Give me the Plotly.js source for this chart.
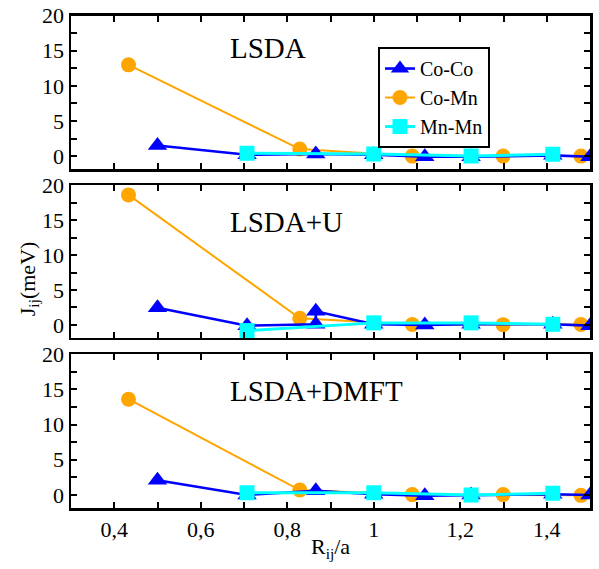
<!DOCTYPE html>
<html>
<head>
<meta charset="utf-8">
<script src="https://cdn.plot.ly/plotly-3.0.1.min.js"></script>
<style>
html,body{margin:0;padding:0;background:#fff;}
#chart{width:599px;height:569px;}
#chart svg text{font-family:"Liberation Serif","DejaVu Serif",serif !important;}
</style>
</head>
<body>
<div id="chart"></div>
<script>
// ---- data ----
const seriesNames = ["Co-Co", "Co-Mn", "Mn-Mn"];
const panelLabels = ["LSDA", "LSDA+U", "LSDA+DMFT"];

const xCoCo = [0.5, 0.707, 0.866, 1.0, 1.118, 1.225, 1.414, 1.5];
const xCoCoU = [0.5, 0.707, 0.866, 0.866, 1.0, 1.118, 1.225, 1.414, 1.5];
const xCoMn = [0.433, 0.829, 1.089, 1.299, 1.479];
const xMnMn = [0.707, 1.0, 1.225, 1.414];

// LSDA
const lsdaCoCo = [1.5, 0.2, 0.3, 0.2, -0.1, -0.1, 0.1, -0.1];
const lsdaCoMn = [13.0, 1.0, 0.0, 0.0, 0.0];
const lsdaMnMn = [0.4, 0.3, 0.0, 0.25];
// LSDA+U
const uCoCo = [2.45, -0.1, 0.1, 1.95, 0.1, 0.0, 0.1, 0.1, -0.1];
const uCoMn = [18.6, 0.95, 0.07, 0.05, 0.07];
const uMnMn = [-0.8, 0.3, 0.3, 0.1];
// LSDA+DMFT
const dmftCoCo = [2.1, 0.0, 0.6, 0.1, -0.1, 0.0, 0.1, 0.0];
const dmftCoMn = [13.6, 0.7, 0.05, 0.05, -0.05];
const dmftMnMn = [0.3, 0.3, 0.0, 0.25];

const xTickVals = [0.4, 0.5, 0.6, 0.7, 0.8, 0.9, 1.0, 1.1, 1.2, 1.3, 1.4];
const xTickText = ["0,4", " ", "0,6", " ", "0,8", " ", "1", " ", "1,2", " ", "1,4"];
const yTickVals = [0, 2.5, 5, 7.5, 10, 12.5, 15, 17.5, 20];
const yTickText = ["0", " ", "5", " ", "10", " ", "15", " ", "20"];

// ---- styling ----
const FONT = "Liberation Serif";
const styles = {
  "Co-Co": {color: "#0000FF", symbol: "triangle-up", size: 17, width: 2.6, rank: 1},
  "Co-Mn": {color: "#FFA500", symbol: "circle", size: 15, width: 2, rank: 2},
  "Mn-Mn": {color: "#00FFFF", symbol: "square", size: 15, width: 3, rank: 3}
};

function tr(name, x, y, ax, show) {
  const s = styles[name];
  return {
    type: "scatter", mode: "lines+markers", name: name, x: x, y: y,
    xaxis: ax[0], yaxis: ax[1], showlegend: show, legendrank: s.rank,
    line: {color: s.color, width: s.width},
    marker: {color: s.color, symbol: s.symbol, size: s.size, line: {width: 0}}
  };
}

// top panel on x3/y3, middle on x2/y2, bottom on x/y
const panels = [
  {ax: ["x3", "y3"], co: lsdaCoCo, cox: xCoCo, cm: lsdaCoMn, mm: lsdaMnMn, show: true},
  {ax: ["x2", "y2"], co: uCoCo, cox: xCoCoU, cm: uCoMn, mm: uMnMn, show: false},
  {ax: ["x", "y"], co: dmftCoCo, cox: xCoCo, cm: dmftCoMn, mm: dmftMnMn, show: false}
];

const traces = [];
panels.forEach(p => {
  traces.push(tr("Co-Mn", xCoMn, p.cm, p.ax, p.show));
  traces.push(tr("Co-Co", p.cox, p.co, p.ax, p.show));
  traces.push(tr("Mn-Mn", xMnMn, p.mm, p.ax, p.show));
});

function xax(anchor, labels) {
  return {
    anchor: anchor, domain: [0, 1], range: [0.3, 1.5],
    showline: true, linecolor: "#000", linewidth: 2.5, mirror: "ticks",
    ticks: "inside", ticklen: 6, tickwidth: 2, tickcolor: "#000",
    tickvals: xTickVals, ticktext: xTickText, showticklabels: labels,
    showgrid: false, zeroline: false,
    tickfont: {family: FONT, size: 22, color: "#000"}
  };
}
function yax(anchor, domain) {
  return {
    anchor: anchor, domain: domain, range: [-1.85, 20],
    showline: true, linecolor: "#000", linewidth: 2.5, mirror: "ticks",
    ticks: "inside", ticklen: 6, tickwidth: 2, tickcolor: "#000",
    tickvals: yTickVals, ticktext: yTickText,
    showgrid: false, zeroline: false,
    tickfont: {family: FONT, size: 22, color: "#000"}
  };
}

const labelPos = [
  {xref: "x3", yref: "y3", y: 15.4},
  {xref: "x2", yref: "y2", y: 14.7},
  {xref: "x", yref: "y", y: 14.8}
];
const annotations = panelLabels.map((t, i) => ({
  text: t, xref: labelPos[i].xref, yref: labelPos[i].yref, x: 0.662, y: labelPos[i].y,
  xanchor: "left", yanchor: "middle", showarrow: false,
  font: {family: FONT, size: 29, color: "#000"}
}));
annotations.push({
  text: "J<sub>ij</sub>(meV)", xref: "paper", yref: "paper", x: -0.082, y: 0.465,
  textangle: -90, showarrow: false, xanchor: "center", yanchor: "middle",
  font: {family: FONT, size: 22, color: "#000"}
});
annotations.push({
  text: "R<sub>ij</sub>/a", xref: "paper", yref: "paper", x: 0.5, y: -0.082,
  showarrow: false, xanchor: "center", yanchor: "middle",
  font: {family: FONT, size: 22, color: "#000"}
});

const layout = {
  width: 599, height: 569,
  margin: {l: 71, r: 9, t: 15, b: 61},
  paper_bgcolor: "#fff", plot_bgcolor: "#fff",
  font: {family: FONT, color: "#000"},
  xaxis3: xax("y3", false),
  yaxis3: yax("x3", [0.6875, 0.9986]),
  xaxis2: xax("y2", false),
  yaxis2: yax("x2", [0.345, 0.655]),
  xaxis: xax("y", true),
  yaxis: yax("x", [0, 0.312]),
  showlegend: true,
  legend: {
    x: 0.5915, y: 0.935, xanchor: "left", yanchor: "top",
    bgcolor: "#fff", bordercolor: "#000", borderwidth: 2,
    font: {family: FONT, size: 20, color: "#000"},
    tracegroupgap: 0, itemwidth: 30
  },
  annotations: annotations
};

Plotly.newPlot("chart", traces, layout, {displayModeBar: false, staticPlot: true});
</script>
</body>
</html>
